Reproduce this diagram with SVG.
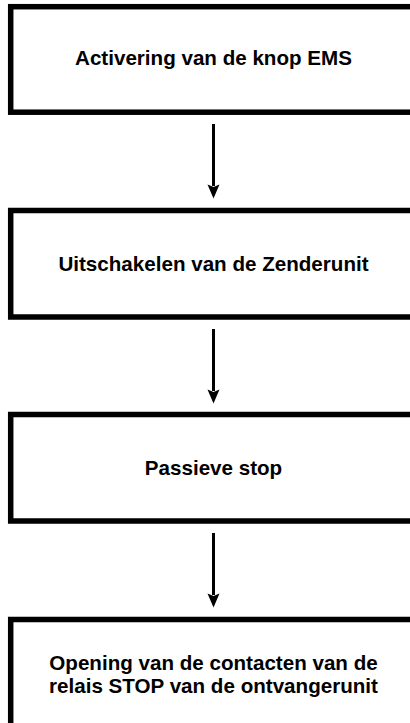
<svg xmlns="http://www.w3.org/2000/svg" width="410" height="723" viewBox="0 0 410 723">
<style>
.box{fill:#fff;stroke:#000;stroke-width:5.5}
.lbl{font-family:"Liberation Sans",Arial,sans-serif;font-weight:bold;font-size:20.6px;fill:#000;text-anchor:middle}
.conn{stroke:#000;stroke-width:3;fill:none}
.head{fill:#000}
</style>
<rect width="410" height="723" fill="#fff"/>
<g id="node1"><rect class="box" x="10.7" y="6.7" width="405" height="105.5"/><text class="lbl" x="213.5" y="65">Activering van de knop EMS</text></g>
<g id="node2"><rect class="box" x="10.7" y="210.5" width="405" height="106.5"/><text class="lbl" x="213.5" y="271">Uitschakelen van de Zenderunit</text></g>
<g id="node3"><rect class="box" x="10.7" y="414.5" width="405" height="106.5"/><text class="lbl" x="213.5" y="475">Passieve stop</text></g>
<g id="node4"><rect class="box" x="10.7" y="619.5" width="405" height="110"/><text class="lbl" x="213.5" y="670">Opening van de contacten van de</text><text class="lbl" x="213.5" y="693">relais STOP van de ontvangerunit</text></g>
<g id="connectors">
<path d="M213.5,124 V186" class="conn"/><path class="head" d="M207.5,184.5 L213.5,187 L219.5,184.5 L213.5,198.5 Z"/>
<path d="M213.5,329 V391" class="conn"/><path class="head" d="M207.5,389.5 L213.5,392 L219.5,389.5 L213.5,403.5 Z"/>
<path d="M213.5,533 V595" class="conn"/><path class="head" d="M207.5,593.5 L213.5,596 L219.5,593.5 L213.5,607.5 Z"/>
</g>
</svg>
